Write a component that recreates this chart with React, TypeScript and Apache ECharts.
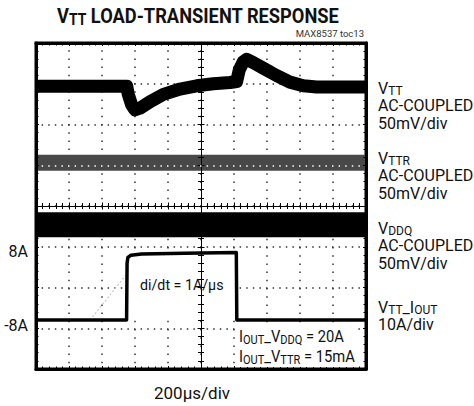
import React, { useEffect, useRef } from "react";
import * as echarts from "echarts";

// ---------------- data ----------------
// time axis: 200 µs/div, 10 divisions
const timeRangeUs = [0, 2000];
const timeStepUs = 200;

// VTT (AC-coupled, 50 mV/div)
const vttTimeUs = [0, 550, 559, 580, 600, 630, 691, 772, 873, 974, 1075, 1176, 1216, 1232, 1256, 1277, 1317, 1378, 1459, 1539, 1620, 1701, 2000];
const vttMv = [-3, -3, -13, -26, -32, -30, -22, -13, -6.5, -2.5, 0, 1.5, 2.8, 17, 27, 30, 26, 19, 10, 2, -2.5, -4, -4];

// VTTR (AC-coupled, 50 mV/div)
const vttrTimeUs = [0, 2000];
const vttrMv = [3, 3];

// VDDQ (AC-coupled, 50 mV/div)
const vddqTimeUs = [0, 2000];
const vddqMv = [2, 2];

// VTT_IOUT (10 A/div)
const ioutTimeUs = [0, 549, 552, 557, 575, 640, 900, 1214, 1217, 2000];
const ioutA = [-8, -8, 6, 7.4, 7.9, 8.2, 8.4, 8.6, -8, -8];

// faint ghost of the current ramp (di/dt)
const rampGhostTimeUs = [327, 552];
const rampGhostA = [-8, 3.4];

// axis scales for each channel (8 vertical divisions)
const vttAxisMv = [-350, 50];
const vttrAxisMv = [-250, 150];
const vddqAxisMv = [-175, 225];
const ioutAxisA = [-20, 60];
const ioutTickValues = [-8, 8];

// texts
const titleText = "{b|V}{bs|TT}{b| LOAD-TRANSIENT RESPONSE}";
const tocText = "MAX8537 toc13";
const timeScaleText = "200µs/div";
const channelLabels = [
  ["{n|V}{s|TT}", "{n|AC-COUPLED}", "{n|50mV/div}"],
  ["{n|V}{s|TTR}", "{n|AC-COUPLED}", "{n|50mV/div}"],
  ["{n|V}{s|DDQ}", "{n|AC-COUPLED}", "{n|50mV/div}"],
  ["{n|V}{s|TT}{n|_I}{s|OUT}", "{n|10A/div}"],
];
const rampText = "di/dt = 1A/µs";
const loadLines = [
  "{n|I}{s|OUT}{n|_V}{s|DDQ}{n| = 20A}",
  "{n|I}{s|OUT}{n|_V}{s|TTR}{n| = 15mA}",
];

// ---------------- helpers ----------------
const pairs = (xs: number[], ys: number[]) => xs.map((x, i) => [x, ys[i]]);
const FONT = "Roboto";
const INK = "#111";

const LABEL_RICH = {
  n: { fontFamily: FONT, fontSize: 16, verticalAlign: "middle" },
  s: { fontFamily: FONT, fontSize: 12, verticalAlign: "middle", padding: [5, 0, 0, 0] },
};
const TITLE_RICH = {
  b: { fontFamily: FONT, fontSize: 21, fontWeight: "bold", verticalAlign: "middle" },
  bs: { fontFamily: FONT, fontSize: 16, fontWeight: "bold", verticalAlign: "middle", padding: [7, 0, 0, 0] },
};

const borderX = (position: string) => ({
  type: "value",
  min: timeRangeUs[0],
  max: timeRangeUs[1],
  interval: timeStepUs,
  position,
  z: 10,
  axisLine: { show: true, onZero: false, lineStyle: { color: "#000", width: 3 } },
  axisTick: { show: true, inside: true, length: 3, lineStyle: { color: "#000", width: 1 } },
  minorTick: { show: true, splitNumber: 5, length: 2.5, lineStyle: { color: "#000", width: 1 } },
  axisLabel: { show: false },
  splitLine: { show: false },
});
const borderY = (position: string) => ({
  type: "value",
  min: -4,
  max: 4,
  interval: 1,
  position,
  z: 10,
  axisLine: { show: true, onZero: false, lineStyle: { color: "#000", width: 3 } },
  axisTick: { show: true, inside: true, length: 3, lineStyle: { color: "#000", width: 1 } },
  minorTick: { show: true, splitNumber: 5, length: 2.5, lineStyle: { color: "#000", width: 1 } },
  axisLabel: { show: false },
  splitLine: { show: false },
});
const centerX = (inside: boolean) => ({
  type: "value",
  min: timeRangeUs[0],
  max: timeRangeUs[1],
  interval: timeStepUs,
  position: "bottom",
  z: 3,
  axisLine: { show: true, onZero: true, onZeroAxisIndex: 0, lineStyle: { color: "#000", width: 1 } },
  axisTick: { show: true, inside, length: 3.5, lineStyle: { color: "#000", width: 1 } },
  minorTick: { show: true, splitNumber: 5, length: 3, lineStyle: { color: "#000", width: 1 } },
  axisLabel: { show: false },
  splitLine: { show: false },
});
const centerY = (inside: boolean) => ({
  type: "value",
  min: -4,
  max: 4,
  interval: 1,
  position: "left",
  z: 3,
  axisLine: { show: true, onZero: true, onZeroAxisIndex: 4, lineStyle: { color: "#000", width: 1 } },
  axisTick: { show: true, inside, length: 3.5, lineStyle: { color: "#000", width: 1 } },
  minorTick: { show: true, splitNumber: 5, length: 3, lineStyle: { color: "#000", width: 1 } },
  axisLabel: { show: false },
  splitLine: { show: false },
});
const hiddenY = (range: number[], step: number) => ({
  type: "value",
  min: range[0],
  max: range[1],
  interval: step,
  position: "left",
  show: false,
  axisLine: { onZero: false },
});

function buildOption(): any {
  return {
    animation: false,
    backgroundColor: "#fff",
    textStyle: { fontFamily: FONT, color: INK },
    grid: { left: 36, top: 43, width: 330, height: 328, show: true, borderColor: "#000", borderWidth: 3, backgroundColor: "transparent" },
    xAxis: [
      {
        ...borderX("bottom"),
        name: timeScaleText,
        nameLocation: "middle",
        nameGap: 15,
        nameTextStyle: { fontFamily: FONT, fontSize: 17, color: INK, padding: [0, 18, 0, 0] },
      },
      borderX("top"),
      centerX(false),
      centerX(true),
      {
        // division grid (vertical dotted lines)
        type: "value",
        min: -5,
        max: 5,
        interval: 1,
        position: "bottom",
        z: 0,
        axisLine: { show: false, onZero: false },
        axisTick: { show: false },
        axisLabel: { show: false },
        splitLine: { show: true, lineStyle: { color: "#333", width: 1.5, type: [1.5, 6.7], dashOffset: 0.75 } },
      },
    ],
    yAxis: [
      {
        // division grid (horizontal dotted lines)
        type: "value",
        min: -4,
        max: 4,
        interval: 1,
        position: "left",
        z: 0,
        axisLine: { show: false, onZero: false },
        axisTick: { show: false },
        axisLabel: { show: false },
        splitLine: { show: true, lineStyle: { color: "#333", width: 1.5, type: [1.5, 5.1], dashOffset: 0.75 } },
      },
      borderY("left"),
      borderY("right"),
      centerY(false),
      centerY(true),
      hiddenY(vttAxisMv, 50),
      hiddenY(vttrAxisMv, 50),
      hiddenY(vddqAxisMv, 25),
      {
        type: "value",
        min: ioutAxisA[0],
        max: ioutAxisA[1],
        interval: 10,
        position: "left",
        axisLine: { show: false, onZero: false },
        axisTick: { show: false },
        splitLine: { show: false },
        axisLabel: {
          show: true,
          customValues: ioutTickValues,
          margin: 8,
          fontFamily: FONT,
          fontSize: 16,
          color: INK,
          formatter: (v: number) => `{${v > 0 ? "hi" : "lo"}|${v}A}`,
          rich: {
            hi: { fontFamily: FONT, fontSize: 16, color: INK, padding: [0, 0, 7, 0] },
            lo: { fontFamily: FONT, fontSize: 16, color: INK, padding: [11, 0, 0, 0] },
          },
        },
      },
    ],
    series: [
      {
        name: "VTT",
        type: "line",
        xAxisIndex: 0,
        yAxisIndex: 5,
        data: pairs(vttTimeUs, vttMv),
        symbol: "none",
        silent: true,
        z: 2,
        lineStyle: { color: "#000", width: 13, join: "round" },
      },
      {
        name: "VTTR",
        type: "line",
        xAxisIndex: 0,
        yAxisIndex: 6,
        data: pairs(vttrTimeUs, vttrMv),
        symbol: "none",
        silent: true,
        z: 2,
        lineStyle: { color: "#484848", width: 16 },
        markLine: {
          silent: true,
          symbol: ["none", "none"],
          label: { show: false },
          lineStyle: { color: "#fff", width: 1.5, type: [1.5, 5.1], dashOffset: 0.75 },
          data: [{ yAxis: 0 }],
        },
      },
      {
        name: "VDDQ",
        type: "line",
        xAxisIndex: 0,
        yAxisIndex: 7,
        data: pairs(vddqTimeUs, vddqMv),
        symbol: "none",
        silent: true,
        z: 2,
        lineStyle: { color: "#000", width: 25 },
      },
      {
        name: "ramp ghost",
        type: "line",
        xAxisIndex: 0,
        yAxisIndex: 8,
        data: pairs(rampGhostTimeUs, rampGhostA),
        symbol: "none",
        silent: true,
        z: 1,
        lineStyle: { color: "#c8c8c8", width: 1.2, type: [2, 2] },
        markArea: {
          silent: true,
          itemStyle: { color: "#fff" },
          data: [[
            { xAxis: ioutTimeUs[2], yAxis: ioutA[0] },
            { xAxis: ioutTimeUs[7], yAxis: ioutA[5] },
          ]],
        },
      },
      {
        name: "VTT_IOUT",
        type: "line",
        xAxisIndex: 0,
        yAxisIndex: 8,
        data: pairs(ioutTimeUs, ioutA),
        symbol: "none",
        silent: true,
        z: 2,
        lineStyle: { color: "#000", width: 3.5, join: "round" },
      },
    ],
    graphic: {
      elements: [
        {
          type: "text",
          x: 57,
          y: 16,
          scaleX: 0.87,
          z: 100,
          style: {
            text: titleText,
            rich: TITLE_RICH,
            fill: INK,
            fontFamily: FONT,
            fontSize: 21,
            fontWeight: "bold",
            align: "left",
            verticalAlign: "middle",
          },
        },
        {
          type: "text",
          x: 364,
          y: 33,
          z: 100,
          style: { text: tocText, fontFamily: FONT, fontSize: 9.5, fill: "#333", align: "right", verticalAlign: "middle" },
        },
        ...channelLabels.map((lines, i) => ({
          type: "text",
          x: 378,
          y: [79.5, 149.5, 219.5, 298.5][i],
          z: 100,
          style: {
            text: lines.join("\n"),
            rich: LABEL_RICH,
            fill: INK,
            fontFamily: FONT,
            fontSize: 16,
            lineHeight: 17.5,
            align: "left",
            verticalAlign: "top",
          },
        })),
        {
          type: "text",
          x: 140,
          y: 285,
          scaleX: 0.95,
          z: 100,
          style: { text: rampText, fontFamily: FONT, fontSize: 15, fill: INK, align: "left", verticalAlign: "middle" },
        },
        {
          type: "text",
          x: 238,
          y: 327,
          scaleX: 0.92,
          z: 100,
          style: {
            text: loadLines.join("\n"),
            rich: LABEL_RICH,
            fill: INK,
            fontFamily: FONT,
            fontSize: 16,
            lineHeight: 20,
            align: "left",
            verticalAlign: "top",
            backgroundColor: "#fff",
            padding: [0, 1, 0, 1],
          },
        },
      ],
    },
  };
}

export default function App() {
  const ref = useRef<HTMLDivElement>(null);
  useEffect(() => {
    if (!ref.current) return;
    const chart = echarts.init(ref.current, null, { renderer: "svg" });
    chart.setOption(buildOption());
    return () => chart.dispose();
  }, []);
  return (
    <div
      ref={ref}
      style={{ position: "fixed", left: 0, top: 0, width: 474, height: 406, background: "#fff" }}
    />
  );
}
